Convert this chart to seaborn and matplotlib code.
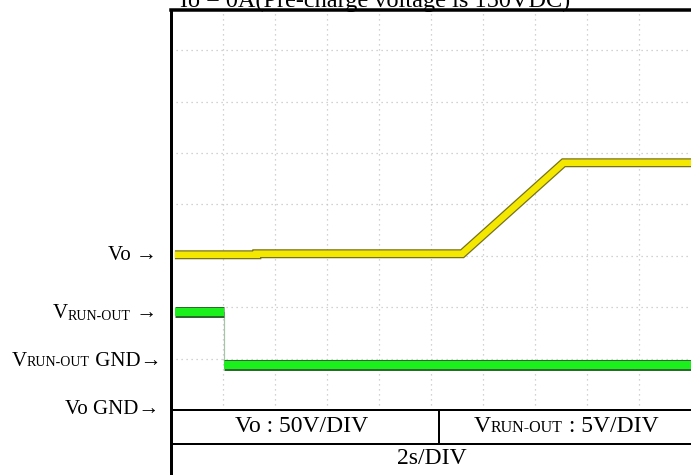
import matplotlib
matplotlib.use("Agg")
import matplotlib.pyplot as plt
import numpy as np
import pandas as pd
import seaborn as sns
from matplotlib.lines import Line2D
from matplotlib.offsetbox import TextArea, HPacker, AnnotationBbox

# ---------------- data ----------------
TIME_PER_DIV = 2.0      # s / div
VO_PER_DIV = 50.0       # V / div
VRUN_PER_DIV = 5.0      # V / div
VRUN_GND_DIV = 1.0      # V_RUN-OUT ground marker (div above Vo GND)

vo_time = [0.15, 3.3, 3.3, 11.2, 15.1, 20.0]          # s
vo_volt = [151.0, 151.0, 152.0, 152.0, 240.5, 240.5]   # V

vrun_time = [0.15, 2.04, 2.04, 20.0]                   # s
vrun_volt = [4.5, 4.5, -0.6, -0.6]                     # V
vrun_seg = [0, 0, 1, 1]

title_text = "Io = 0A(Pre-charge voltage is 150VDC)"
scale_vo = "Vo : 50V/DIV"
scale_time = "2s/DIV"

# ---------------- figure ----------------
sns.set_theme(style="white")
SERIF = ["Liberation Serif", "DejaVu Serif"]
plt.rcParams["font.family"] = SERIF

W, H = 691, 475
fig = plt.figure(figsize=(W / 100, H / 100), dpi=100)
fig.patch.set_facecolor("white")

def fx(px):
    return px / W

def fy(py):
    return 1 - py / H

PX = 0.72  # points per pixel
DIV_PX_Y = 51.4
ax = fig.add_axes([fx(171), fy(410), 520 / W, 400 / H])
ax.set_facecolor("white")
ax.set_xlim(0, 10)
ax.set_ylim(0, 400 / DIV_PX_Y)

ax.set_xticks(np.arange(1, 10))
ax.set_yticks(np.arange(1, 8))
ax.tick_params(length=0, labelbottom=False, labelleft=False)
ax.grid(True, color="#c4c4c4", linestyle=(0, (1, 3)), linewidth=0.9)
ax.set_axisbelow(True)

for s in ax.spines.values():
    s.set_color("black")
ax.spines["left"].set_linewidth(3 * PX)
ax.spines["top"].set_linewidth(3.5 * PX)
ax.spines["bottom"].set_linewidth(2 * PX)
ax.spines["right"].set_visible(False)

vo_df = pd.DataFrame({
    "t": np.array(vo_time) / TIME_PER_DIV,
    "y": np.array(vo_volt) / VO_PER_DIV,
})
vrun_df = pd.DataFrame({
    "t": np.array(vrun_time) / TIME_PER_DIV,
    "y": VRUN_GND_DIV + np.array(vrun_volt) / VRUN_PER_DIV,
    "seg": vrun_seg,
})

# Vo trace (yellow with dark olive fuzz)
sns.lineplot(data=vo_df, x="t", y="y", sort=False, estimator=None, ax=ax,
             color="#77721c", linewidth=9 * PX, solid_capstyle="butt",
             solid_joinstyle="miter", legend=False)
sns.lineplot(data=vo_df, x="t", y="y", sort=False, estimator=None, ax=ax,
             color="#f4e800", linewidth=6.5 * PX, solid_capstyle="butt",
             solid_joinstyle="miter", legend=False)

# V_RUN-OUT trace: thin transition then thick green levels
sns.lineplot(data=vrun_df, x="t", y="y", sort=False, estimator=None, ax=ax,
             color="#a8c4a8", linewidth=1.2 * PX, legend=False)
sns.lineplot(data=vrun_df, x="t", y="y", units="seg", sort=False, estimator=None,
             ax=ax, color="#2a6a2a", linewidth=11 * PX, solid_capstyle="butt",
             legend=False)
sns.lineplot(data=vrun_df, x="t", y="y", units="seg", sort=False, estimator=None,
             ax=ax, color="#1cf01c", linewidth=8 * PX, solid_capstyle="butt",
             legend=False)
ax.set_xlabel("")
ax.set_ylabel("")

# ---------------- table below the screen ----------------
def fline(xs, ys, lw):
    fig.add_artist(Line2D([fx(x) for x in xs], [fy(y) for y in ys],
                          color="black", linewidth=lw * PX,
                          transform=fig.transFigure, solid_capstyle="butt"))

fline([171, 171], [410, 480], 3)
fline([171, 700], [443.5, 443.5], 2)
fline([438.5, 438.5], [410, 443.5], 2)

BIG = 15
SMALL = 10
TAB = 17
TAB_SMALL = 11.5

fig.text(fx(302), fy(427), scale_vo, ha="center", va="center", fontsize=TAB,
         family=SERIF, color="black")
fig.text(fx(432), fy(459), scale_time, ha="center", va="center", fontsize=TAB,
         family=SERIF, color="black")

def packed(parts, xy, align=(1, 0.5), valign="baseline"):
    kids = [TextArea(t, textprops=dict(fontsize=sz, family=SERIF, color="black"))
            for t, sz in parts]
    box = HPacker(children=kids, align=valign, pad=0, sep=0)
    ab = AnnotationBbox(box, (fx(xy[0]), fy(xy[1])), xycoords="figure fraction",
                        box_alignment=align, frameon=False, pad=0)
    fig.add_artist(ab)

packed([("V", TAB), ("RUN-OUT", TAB_SMALL), (" : 5V/DIV", TAB)], (566, 427),
       align=(0.5, 0.5))

# left side markers
fig.text(fx(157), fy(256), "Vo \u2192", ha="right", va="center", fontsize=BIG,
         family=SERIF, color="black")
packed([("V", BIG), ("RUN-OUT", SMALL), (" \u2192", BIG)], (157, 314),
       valign="bottom")
packed([("V", BIG), ("RUN-OUT", SMALL), (" GND\u2192", BIG)], (161, 361))
fig.text(fx(159), fy(410), "Vo GND\u2192", ha="right", va="center", fontsize=BIG,
         family=SERIF, color="black")

# title (cut at the top edge, as in the source)
fig.text(fx(375), fy(7), title_text, ha="center", va="baseline", fontsize=17.5,
         family=SERIF, color="black")

fig.savefig("out.png", dpi=100, facecolor="white")
